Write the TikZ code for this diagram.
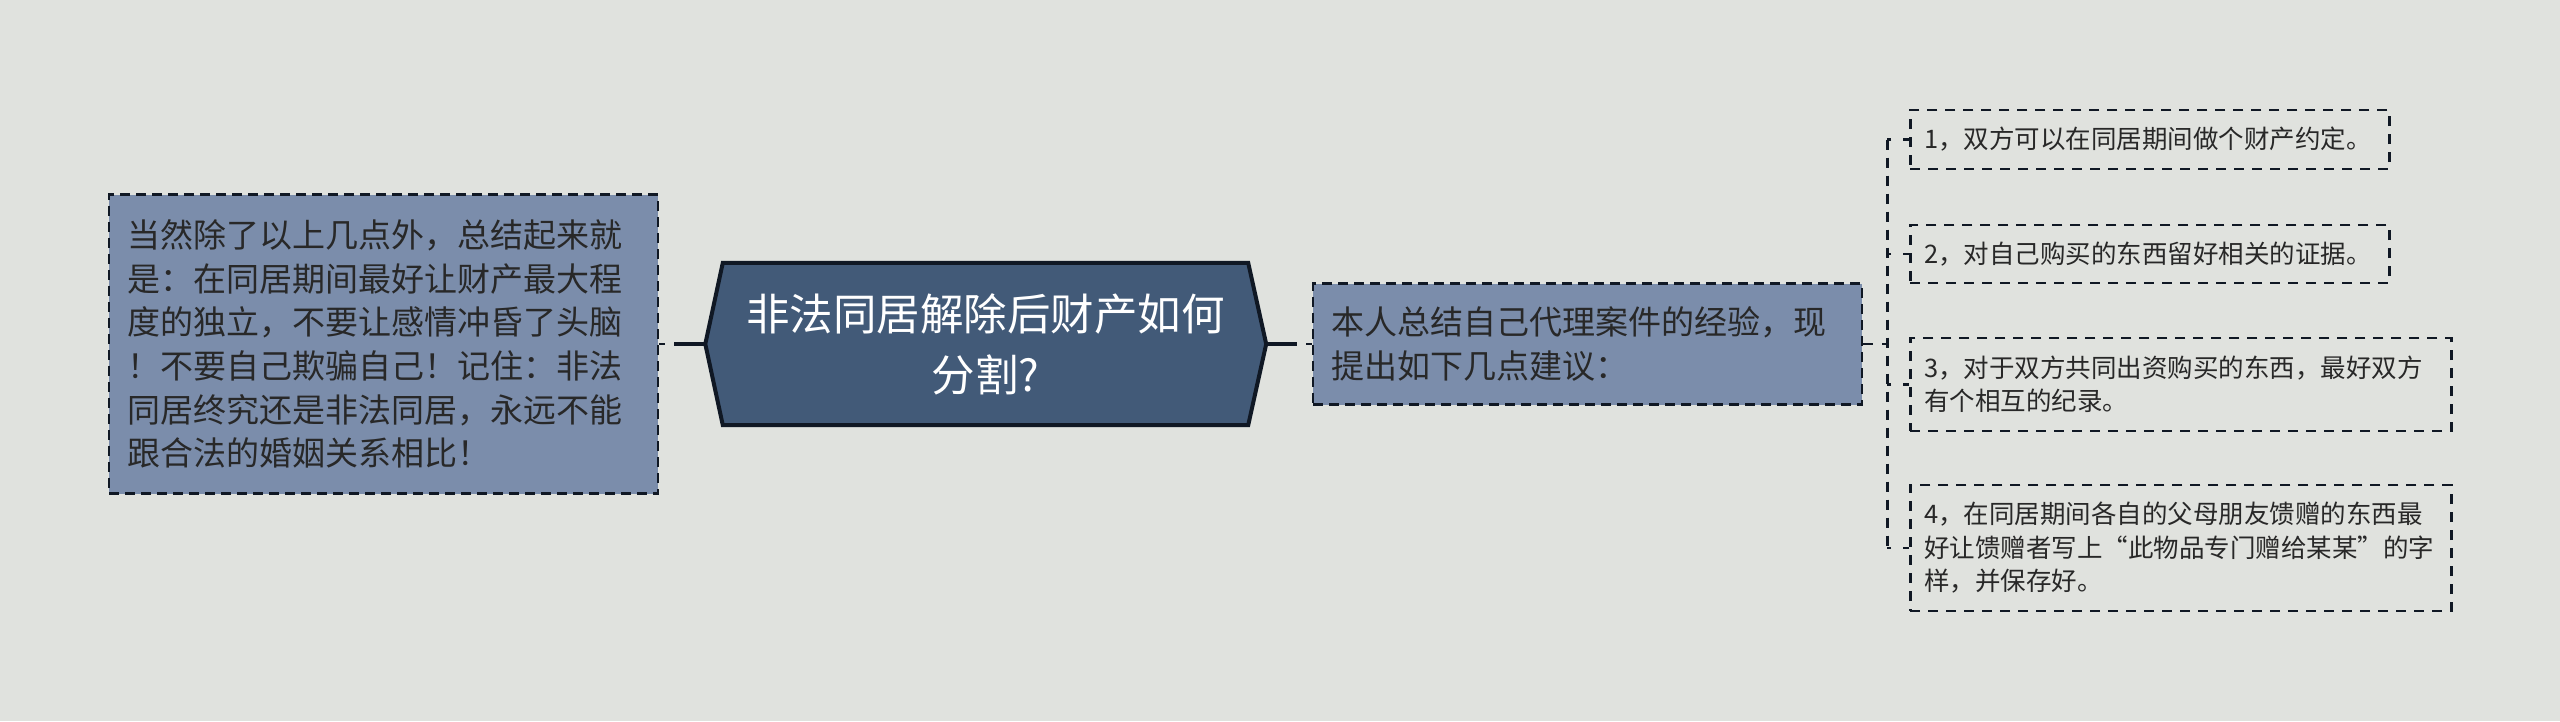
\documentclass[tikz,border=0pt]{standalone}
\usepackage{fontspec}
\newfontfamily\cjk{Noto Sans CJK SC}
\usetikzlibrary{backgrounds}
\definecolor{bgcol}{RGB}{224,226,222}
\definecolor{boxcol}{RGB}{123,141,171}
\definecolor{hexcol}{RGB}{66,90,120}
\definecolor{linecol}{RGB}{16,24,36}
\definecolor{txtcol}{RGB}{40,40,40}

\begin{document}
\begin{tikzpicture}[x=1pt,y=-1pt,node distance=602pt,
  hex node/.style={rectangle,inner sep=0pt,minimum width=525pt,minimum height=162pt,align=center,text=white,font=\cjk\fontsize{43.5}{61}\selectfont},
  topic node/.style={rectangle,draw=linecol,fill=boxcol,line width=2.5pt,dash pattern=on 10pt off 6pt,text=txtcol,inner xsep=18pt,inner ysep=0pt,text width=513pt,align=left,font=\cjk\fontsize{33}{43.6}\selectfont},
  leaf node/.style={rectangle,draw=linecol,line width=2.5pt,dash pattern=on 10pt off 8pt,text=txtcol,anchor=west,inner xsep=14pt,inner ysep=0pt,align=left,font=\cjk\fontsize{25.5}{33.5}\selectfont},
  conn/.style={draw=linecol,line width=3.5pt},
  stub/.style={draw=linecol,line width=2.5pt,dash pattern=on 6pt off 12pt},
  link/.style={draw=linecol,line width=2.5pt,dash pattern=on 10pt off 9pt},
  trunk/.style={draw=linecol,line width=2.5pt,dash pattern=on 10pt off 8pt}]

  \useasboundingbox (0,0) rectangle (2560,721);

  \node[hex node] (00) at (985.5,344) {非法同居解除后财产如何\\分割?};
  \node[topic node,minimum height=299pt] (10) [left of=00] {当然除了以上几点外，总结起来就\\是：在同居期间最好让财产最大程\\度的独立，不要让感情冲昏了头脑\\！不要自己欺骗自己！记住：非法\\同居终究还是非法同居，永远不能\\跟合法的婚姻关系相比！};
  \node[topic node,minimum height=121pt] (20) [right of=00] {本人总结自己代理案件的经验，现\\提出如下几点建议：};

   \node[leaf node,text width=451pt,minimum height=59pt] (21) at (1909,139.5) {1，双方可以在同居期间做个财产约定。};
   \node[leaf node,text width=451pt,minimum height=58pt] (22) at (1909,254) {2，对自己购买的东西留好相关的证据。};
   \node[leaf node,text width=513pt,minimum height=93pt] (23) at (1909,384.5) {3，对于双方共同出资购买的东西，最好双方\\有个相互的纪录。};
   \node[leaf node,text width=513pt,minimum height=126pt] (24) at (1909,548) {4，在同居期间各自的父母朋友馈赠的东西最\\好让馈赠者写上“此物品专门赠给某某”的字\\样，并保存好。};

  \coordinate (00w) at ([xshift=-17.5pt]00.west);
  \coordinate (00e) at ([xshift=18pt]00.east);
  \coordinate (jn) at ([xshift=24pt]20.east);

\begin{scope}[on background layer]
  \fill[bgcol] (0,0) rectangle (2560,721);
  \draw[fill=hexcol,draw=linecol,line width=4pt,line join=miter] (00.north west) -- (00.north east) -- (00e) -- (00.south east) -- (00.south west) -- (00w) -- cycle;
\end{scope}

\begin{scope}
  \draw[conn] (00w) -- ([xshift=15pt]10.east);
   \draw[stub] (10.east) -- ++(15,0);
  \draw[conn] (00e) -- ([xshift=-15pt]20.west);
   \draw[stub] (20.west) -- ++(-15,0);
  \draw[link] (20.east) -- (jn);
  \draw[trunk] (jn |- 21.west) -- (jn |- 24.west);
  \foreach \n in {21,22,23,24}
    \draw[stub] (\n.west) -- (jn |- \n.west);
\end{scope}
\end{tikzpicture}
\end{document}
